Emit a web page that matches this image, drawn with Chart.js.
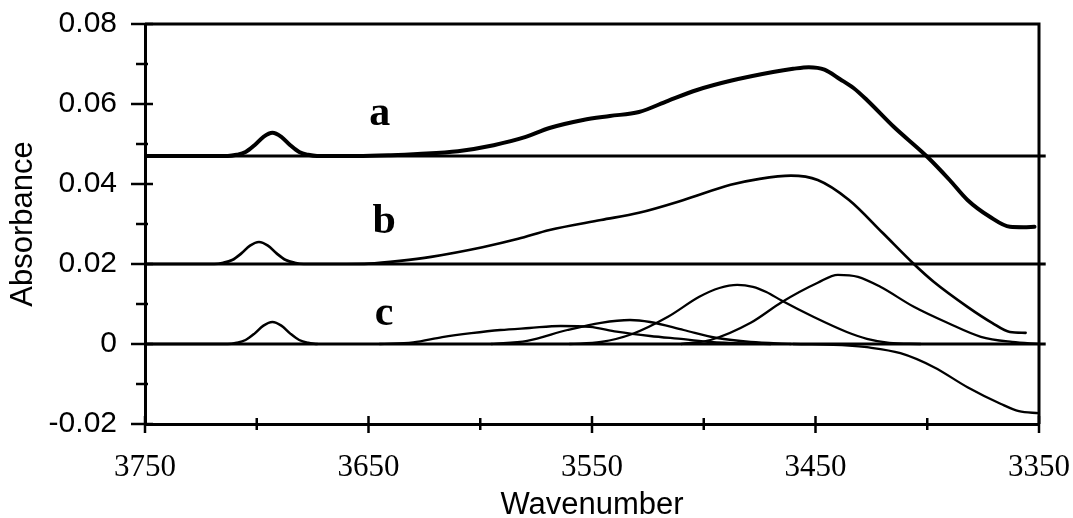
<!DOCTYPE html>
<html>
<head>
<meta charset="utf-8">
<script src="https://cdn.jsdelivr.net/npm/chart.js@4/dist/chart.umd.min.js"></script>
<style>
  html, body { margin: 0; padding: 0; background: #fff; }
  canvas { display: block; }
</style>
</head>
<body>
<canvas id="spectra" width="1073" height="518"></canvas>
<script>
// Spectrum a (thick trace, offset baseline 0.047)
const waveA = [3750, 3713, 3709, 3705, 3701, 3697, 3693, 3689, 3685, 3681, 3677, 3673, 3655, 3640, 3628, 3610, 3594, 3580, 3569, 3554, 3542, 3529, 3516, 3503, 3488, 3469, 3460, 3453, 3446, 3439, 3433, 3427, 3415, 3400, 3390, 3382, 3372, 3363, 3357, 3352];
const absA  = [0.0470, 0.0470, 0.0473, 0.0480, 0.0497, 0.0518, 0.0528, 0.0518, 0.0497, 0.0480, 0.0473, 0.0470, 0.0470, 0.0472, 0.0475, 0.0482, 0.0497, 0.0517, 0.0540, 0.0560, 0.0570, 0.0580, 0.0608, 0.0635, 0.0658, 0.0680, 0.0688, 0.0692, 0.0686, 0.0662, 0.0640, 0.0610, 0.0543, 0.0468, 0.0410, 0.0360, 0.0318, 0.0293, 0.0292, 0.0293];

// Spectrum b (offset baseline 0.02)
const waveB = [3750, 3719, 3715, 3711, 3707, 3703, 3699, 3695, 3691, 3687, 3683, 3679, 3660, 3650, 3636, 3622, 3599, 3583, 3569, 3546, 3529, 3509, 3488, 3475, 3461, 3449, 3435, 3420, 3406, 3397, 3382, 3371, 3363, 3356];
const absB  = [0.0200, 0.0200, 0.0203, 0.0210, 0.0226, 0.0246, 0.0255, 0.0246, 0.0226, 0.0210, 0.0203, 0.0200, 0.0200, 0.0201, 0.0208, 0.0218, 0.0242, 0.0263, 0.0285, 0.0310, 0.0328, 0.0360, 0.0398, 0.0413, 0.0421, 0.0410, 0.0360, 0.0278, 0.0200, 0.0155, 0.0093, 0.0053, 0.0030, 0.0028];

// Spectrum c: fitted components on the zero baseline
const waveC0 = [3750, 3713, 3709, 3705, 3701, 3697, 3693, 3689, 3685, 3681, 3677, 3673];
const absC0  = [0, 0, 0.0003, 0.0010, 0.0026, 0.0046, 0.0055, 0.0046, 0.0026, 0.0010, 0.0003, 0];

const waveC1 = [3645, 3630, 3617, 3604, 3591, 3578, 3564, 3551, 3539, 3524, 3509, 3497, 3480, 3470];
const absC1  = [0, 0.0004, 0.0017, 0.0027, 0.0035, 0.0040, 0.0045, 0.0043, 0.0031, 0.0020, 0.0012, 0.0005, 0.0001, 0];

const waveC2 = [3595, 3579, 3561, 3546, 3533, 3524, 3509, 3494, 3479, 3461];
const absC2  = [0, 0.0008, 0.0035, 0.0053, 0.0060, 0.0055, 0.0035, 0.0015, 0.0005, 0];

const waveC3 = [3560, 3546, 3532, 3516, 3502, 3493, 3485, 3478, 3472, 3465, 3451, 3436, 3427, 3417, 3403];
const absC3  = [0, 0.0005, 0.0025, 0.0068, 0.0118, 0.0140, 0.0148, 0.0143, 0.0130, 0.0108, 0.0068, 0.0030, 0.0013, 0.0003, 0];

const waveC4 = [3510, 3497, 3479, 3465, 3449, 3440, 3431, 3421, 3406, 3391, 3376, 3362, 3350];
const absC4  = [0, 0.0010, 0.0053, 0.0105, 0.0153, 0.0173, 0.0168, 0.0143, 0.0093, 0.0053, 0.0018, 0.0005, 0];

const waveC5 = [3460, 3435, 3427, 3412, 3397, 3382, 3367, 3359, 3350];
const absC5  = [0, -0.0004, -0.0008, -0.0023, -0.0058, -0.0108, -0.0150, -0.0168, -0.0173];

// horizontal offset baselines
const baseWave = [3750, 3347];
const baseLevels = [0.047, 0.02, 0];

// trace tags
const tagText = ['a', 'b', 'c'];
const tagWave = [3645, 3643, 3643];
const tagAbs  = [0.0548, 0.0278, 0.0048];

const zip = (xs, ys) => xs.map((x, i) => ({ x: x, y: ys[i] }));

// labelled x ticks fall every 100 counting from 3350
const isMajorWave = v => Math.round(v - 3350) % 100 === 0;
const isMajorAbs = v => Math.round(v * 100) % 2 === 0;

// fixed axis sizes, no extra room for overhanging labels
function fixBox(size) {
  return s => {
    if (s.isHorizontal()) s.height = size; else s.width = size;
    s.paddingLeft = s.paddingRight = s.paddingTop = s.paddingBottom = 0;
  };
}

function trace(xs, ys, width) {
  return {
    data: zip(xs, ys),
    borderColor: '#000',
    borderWidth: width,
    pointRadius: 0,
    fill: false,
    cubicInterpolationMode: 'monotone',
    borderCapStyle: 'round',
    borderJoinStyle: 'round'
  };
}

const datasets = baseLevels.map(level => ({
  data: zip(baseWave, baseWave.map(() => level)),
  borderColor: '#000',
  borderWidth: 3,
  pointRadius: 0,
  fill: false,
  clip: { left: 0, top: 0, right: 10, bottom: 0 }
}));
datasets.push(trace(waveA, absA, 4));
datasets.push(trace(waveB, absB, 2.7));
datasets.push(trace(waveC0, absC0, 2.5));
datasets.push(trace(waveC1, absC1, 2.3));
datasets.push(trace(waveC2, absC2, 2.3));
datasets.push(trace(waveC3, absC3, 2.3));
datasets.push(trace(waveC4, absC4, 2.3));
datasets.push(trace(waveC5, absC5, 2.3));

// tick marks crossing the axes, the top/right frame and the a/b/c tags
const frameAndTicks = {
  id: 'frameAndTicks',
  afterDatasetsDraw(chart) {
    const { ctx, chartArea: area, scales: { x, y } } = chart;
    ctx.save();
    ctx.strokeStyle = '#000';
    ctx.lineCap = 'butt';

    ctx.lineWidth = 3;
    ctx.beginPath();
    ctx.moveTo(area.left, area.top);
    ctx.lineTo(area.right, area.top);
    ctx.lineTo(area.right, area.bottom);
    ctx.stroke();

    ctx.lineWidth = 2.5;
    y.ticks.forEach(t => {
      const py = y.getPixelForValue(t.value);
      const major = isMajorAbs(t.value);
      ctx.beginPath();
      ctx.moveTo(area.left - (major ? 14 : 9), py);
      ctx.lineTo(area.left + (major ? 8 : 3), py);
      ctx.stroke();
    });
    x.ticks.forEach(t => {
      const px = x.getPixelForValue(t.value);
      const major = isMajorWave(t.value);
      ctx.beginPath();
      ctx.moveTo(px, area.bottom - (major ? 8 : 6));
      ctx.lineTo(px, area.bottom + (major ? 9 : 6));
      ctx.stroke();
    });

    ctx.fillStyle = '#000';
    ctx.font = 'bold 42px "Liberation Serif"';
    ctx.textAlign = 'center';
    ctx.textBaseline = 'alphabetic';
    tagText.forEach((txt, i) => {
      ctx.fillText(txt, x.getPixelForValue(tagWave[i]), y.getPixelForValue(tagAbs[i]));
    });
    ctx.restore();
  }
};

Chart.defaults.color = '#000';

new Chart(document.getElementById('spectra'), {
  type: 'line',
  data: { datasets: datasets },
  plugins: [frameAndTicks],
  options: {
    responsive: false,
    animation: false,
    events: [],
    layout: { padding: { top: 24, right: 34, left: 0, bottom: 0 } },
    plugins: { legend: { display: false }, tooltip: { enabled: false } },
    scales: {
      x: {
        type: 'linear',
        reverse: true,
        min: 3350,
        max: 3750,
        afterFit: fixBox(94),
        grid: { display: false, drawTicks: false },
        border: { display: true, color: '#000', width: 3 },
        ticks: {
          stepSize: 50,
          autoSkip: false,
          maxRotation: 0,
          padding: 25,
          font: { family: '"Liberation Serif"', size: 31 },
          callback: v => (isMajorWave(v) ? String(v) : '')
        },
        title: {
          display: true,
          text: 'Wavenumber',
          padding: 0,
          font: { family: '"Liberation Sans"', size: 31, lineHeight: 0.8 }
        }
      },
      y: {
        min: -0.02,
        max: 0.08,
        afterFit: fixBox(145),
        grid: { display: false, drawTicks: false },
        border: { display: true, color: '#000', width: 3 },
        ticks: {
          stepSize: 0.01,
          autoSkip: false,
          padding: 28,
          font: { family: '"Liberation Sans"', size: 30 },
          callback: v => {
            if (!isMajorAbs(v)) return '';
            const n = Math.round(v * 100);
            return n === 0 ? '0' : (n / 100).toFixed(2);
          }
        },
        title: {
          display: true,
          text: 'Absorbance',
          padding: { top: 5, bottom: 0 },
          font: { family: '"Liberation Sans"', size: 31 }
        }
      }
    }
  }
});
</script>
</body>
</html>
